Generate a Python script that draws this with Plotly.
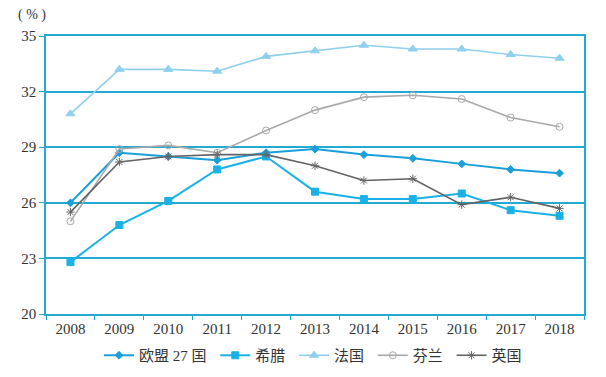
import plotly.graph_objects as go

years = ["2008", "2009", "2010", "2011", "2012", "2013", "2014", "2015", "2016", "2017", "2018"]
eu27 = [26.0, 28.7, 28.5, 28.3, 28.7, 28.9, 28.6, 28.4, 28.1, 27.8, 27.6]
greece = [22.8, 24.8, 26.1, 27.8, 28.5, 26.6, 26.2, 26.2, 26.5, 25.6, 25.3]
france = [30.8, 33.2, 33.2, 33.1, 33.9, 34.2, 34.5, 34.3, 34.3, 34.0, 33.8]
finland = [25.0, 28.9, 29.1, 28.7, 29.9, 31.0, 31.7, 31.8, 31.6, 30.6, 30.1]
uk = [25.5, 28.2, 28.5, 28.6, 28.6, 28.0, 27.2, 27.3, 25.9, 26.3, 25.7]
y_ticks = [20, 23, 26, 29, 32, 35]

series = [
    ("欧盟 27 国", eu27, "#1a9fd9", "diamond", 6, 2),
    ("希腊", greece, "#1ab2e6", "square", 7, 2),
    ("法国", france, "#8fd0ec", "triangle-up", 8, 1.6),
    ("芬兰", finland, "#a9a9a9", "circle-open", 7, 1.6),
    ("英国", uk, "#646464", "asterisk-open", 7, 1.6),
]

fig = go.Figure()
for name, vals, color, sym, size, lw in series:
    fig.add_trace(go.Scatter(
        x=years, y=vals, name=name + " ", mode="lines+markers",
        line=dict(color=color, width=lw),
        marker=dict(symbol=sym, size=size, color=color, line=dict(color=color, width=1)),
    ))

axis_color = "#22aad4"
font_fam = "Liberation Serif, Noto Sans CJK SC, serif"
fig.update_layout(
    width=606, height=377,
    margin=dict(l=38, r=30, t=28, b=71, autoexpand=False),
    paper_bgcolor="white", plot_bgcolor="white",
    font=dict(family=font_fam, size=15, color="#333333"),
    showlegend=True,
    legend=dict(orientation="h", x=0.5, xanchor="center", y=-0.09, yanchor="top",
                font=dict(size=15, color="#333333"), tracegroupgap=0),
    xaxis=dict(type="category", range=[-0.5, 10.5], showline=True, linecolor=axis_color,
               linewidth=1.5, mirror=True, ticks="outside", tickson="boundaries",
               tickcolor=axis_color, ticklen=4, showgrid=False,
               tickfont=dict(size=15, color="#333333")),
    yaxis=dict(range=[20, 35], tickvals=y_ticks, showline=True, linecolor=axis_color,
               linewidth=1.5, mirror=True, gridcolor=axis_color, gridwidth=1.5,
               ticks="outside", ticklen=5, tickcolor=axis_color, zeroline=False,
               tickfont=dict(size=15, color="#333333")),
    annotations=[dict(text="( % )", x=0, y=1.04, xref="paper", yref="paper",
                      xanchor="right", yanchor="bottom", showarrow=False, xshift=2,
                      font=dict(size=14, color="#333333"))],
)

fig.write_html("out.html")
